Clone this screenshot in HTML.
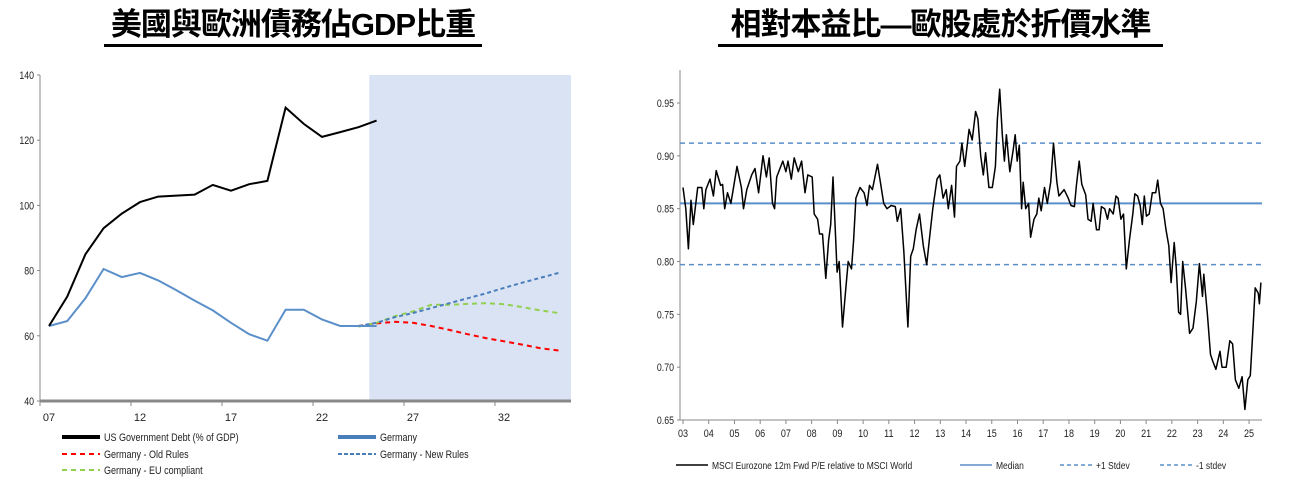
<!DOCTYPE html>
<html><head><meta charset="utf-8">
<style>
html,body{margin:0;padding:0;background:#fff;}
body{width:1292px;height:488px;overflow:hidden;position:relative;font-family:"Liberation Sans","Noto Sans CJK TC",sans-serif;}
.title{position:absolute;top:6px;font-family:"Liberation Sans","Noto Sans CJK TC",sans-serif;font-weight:bold;font-size:31px;line-height:38px;white-space:nowrap;border-bottom:3px solid #000;padding-bottom:0;}
svg{position:absolute;left:0;top:0;}
svg text{font-family:"Liberation Sans",sans-serif;}
</style></head>
<body>
<div class="title" style="left:104px;width:378px;text-align:center;letter-spacing:-1px;">美國與歐洲債務佔GDP比重</div>
<div class="title" style="left:718px;width:445px;text-align:center;letter-spacing:-1px;">相對本益比—歐股處於折價水準</div>
<svg id="chart" width="1292" height="488"></svg>
<script>
// ---------- Left chart data ----------
const leftYTicks = [40, 60, 80, 100, 120, 140];
const leftXTicks = [7, 12, 17, 22, 27, 32];
const leftXLabels = ["07", "12", "17", "22", "27", "32"];
const usYears = [7,8,9,10,11,12,13,14,15,16,17,18,19,20,21,22,23,24,25];
const usDebt = [63,72,85,93,97.5,101,102.7,103,103.3,106.3,104.5,106.5,107.5,130,125,121,122.5,124,126];
const deYears = [7,8,9,10,11,12,13,14,15,16,17,18,19,20,21,22,23,24,25];
const deDebt = [63,64.5,71.5,80.5,78,79.3,77,74,70.8,67.8,64,60.5,58.5,68,68,65,63,63,63];
const projYears = [24,25,26,27,28,29,30,31,32,33,34,35];
const oldRules = [63,63.8,64.3,64,63,61.8,60.5,59.3,58.3,57.3,56.2,55.5];
const newRules = [63,64,65.7,67,68.5,70,71.5,73,74.7,76.3,77.8,79.3];
const euCompliant = [62.8,64,66,67.5,69.5,69.5,69.8,70,69.7,68.8,67.8,67];
const shadeStartYear = 24.6;
const shadeEndYear = 36.1;

// ---------- Right chart data ----------
const rightYTicks = [0.65, 0.70, 0.75, 0.80, 0.85, 0.90, 0.95];
const rightYLabels = ["0.65","0.70","0.75","0.80","0.85","0.90","0.95"];
const rightXTicks = [3,4,5,6,7,8,9,10,11,12,13,14,15,16,17,18,19,20,21,22,23,24,25];
const medianValue = 0.855;
const plusStdev = 0.912;
const minusStdev = 0.797;
const peDates = [3.00,3.11,3.21,3.31,3.40,3.57,3.73,3.81,3.89,4.05,4.18,4.29,4.46,4.54,4.62,4.73,4.86,5.10,5.27,5.35,5.48,5.67,5.80,5.94,6.11,6.24,6.35,6.48,6.56,6.64,6.88,7.00,7.08,7.21,7.32,7.48,7.61,7.74,7.85,8.02,8.10,8.23,8.31,8.42,8.55,8.66,8.74,8.83,8.99,9.07,9.20,9.31,9.42,9.55,9.63,9.72,9.88,10.04,10.15,10.25,10.36,10.56,10.69,10.80,10.93,11.09,11.25,11.33,11.46,11.58,11.74,11.85,11.95,12.06,12.19,12.34,12.47,12.58,12.71,12.87,12.98,13.11,13.23,13.31,13.44,13.55,13.63,13.76,13.84,13.95,14.12,14.24,14.37,14.46,14.57,14.67,14.76,14.89,15.02,15.14,15.22,15.31,15.41,15.49,15.57,15.70,15.83,15.91,15.99,16.07,16.16,16.22,16.32,16.43,16.51,16.64,16.75,16.83,16.92,17.05,17.16,17.29,17.40,17.53,17.61,17.81,17.97,18.08,18.21,18.29,18.40,18.50,18.65,18.74,18.86,18.94,19.07,19.17,19.26,19.39,19.50,19.58,19.72,19.83,19.91,20.02,20.12,20.23,20.35,20.48,20.56,20.67,20.77,20.85,20.93,21.01,21.12,21.24,21.37,21.45,21.56,21.66,21.77,21.88,21.97,22.09,22.17,22.26,22.34,22.42,22.53,22.69,22.82,22.95,23.07,23.19,23.24,23.38,23.50,23.60,23.71,23.87,23.95,24.11,24.25,24.36,24.47,24.60,24.73,24.84,24.95,25.05,25.16,25.24,25.36,25.40,25.46];
const peValues = [0.87,0.85,0.812,0.858,0.835,0.87,0.87,0.85,0.868,0.878,0.862,0.886,0.872,0.873,0.85,0.865,0.855,0.89,0.87,0.85,0.868,0.882,0.888,0.865,0.9,0.88,0.898,0.855,0.85,0.88,0.895,0.885,0.895,0.878,0.898,0.885,0.895,0.865,0.882,0.88,0.845,0.84,0.826,0.826,0.784,0.82,0.835,0.88,0.79,0.8,0.738,0.77,0.8,0.793,0.82,0.86,0.87,0.865,0.853,0.872,0.868,0.892,0.872,0.855,0.85,0.853,0.852,0.838,0.85,0.81,0.738,0.805,0.812,0.83,0.845,0.815,0.797,0.822,0.85,0.878,0.882,0.86,0.868,0.85,0.872,0.842,0.89,0.895,0.912,0.89,0.925,0.915,0.942,0.935,0.9,0.882,0.903,0.87,0.87,0.89,0.935,0.963,0.92,0.895,0.92,0.885,0.905,0.92,0.895,0.91,0.85,0.875,0.85,0.855,0.823,0.84,0.845,0.86,0.848,0.87,0.855,0.875,0.912,0.875,0.862,0.868,0.86,0.853,0.852,0.872,0.895,0.873,0.863,0.84,0.838,0.855,0.83,0.83,0.852,0.85,0.84,0.85,0.845,0.862,0.86,0.84,0.845,0.793,0.82,0.845,0.864,0.862,0.853,0.835,0.862,0.843,0.845,0.865,0.865,0.877,0.855,0.85,0.83,0.815,0.78,0.818,0.795,0.752,0.75,0.8,0.775,0.732,0.737,0.762,0.798,0.767,0.788,0.75,0.712,0.705,0.698,0.715,0.7,0.7,0.725,0.722,0.688,0.68,0.691,0.66,0.688,0.692,0.74,0.775,0.77,0.76,0.78];

const NS = "http://www.w3.org/2000/svg";
const svg = document.getElementById('chart');
function mk(tag, attrs, parent){const e=document.createElementNS(NS,tag);for(const k in attrs)e.setAttribute(k,attrs[k]);(parent||svg).appendChild(e);return e;}

// ---------- Left axes ----------
const LX0=40, LX1=571, LYT=75, LYB=401;
const lx = y => 49 + (y-7)*18.2;
const ly = v => LYB - (v-40)*(LYB-LYT)/100;

let shade = mk('rect',{x:lx(shadeStartYear),y:LYT,width:LX1-lx(shadeStartYear),height:LYB-LYT,fill:'#dae3f3'});



let lyAxis = mk('line',{x1:LX0,y1:LYT,x2:LX0,y2:LYB,stroke:'#888','stroke-width':1});


let lxAxis = mk('line',{x1:LX0,y1:LYB,x2:LX1,y2:LYB,stroke:'#888','stroke-width':3});



leftYTicks.forEach(v=>{
  mk('line',{x1:LX0-3,y1:ly(v),x2:LX0,y2:ly(v),stroke:'#888'});
  const t=mk('text',{x:LX0-6,y:ly(v)+4,'text-anchor':'end','font-size':11,fill:'#222',transform:`translate(${LX0-6},0) scale(0.8,1) translate(${-(LX0-6)},0)`});
  t.textContent=String(v);
  
  
});
leftXTicks.forEach((yr,i)=>{
  const x=lx(yr);
  mk('line',{x1:x-9,y1:LYB,x2:x-9,y2:LYB+5,stroke:'#888'});
  const t=mk('text',{x:x,y:LYB+20,'text-anchor':'middle','font-size':11,fill:'#222'});
  t.textContent=leftXLabels[i];
  
  
});

function path(xs, ys, fx, fy){return xs.map((x,i)=>(i?'L':'M')+fx(x).toFixed(1)+','+fy(ys[i]).toFixed(1)).join(' ');}

let p;
p=mk('path',{d:path(projYears,oldRules,lx,ly),fill:'none',stroke:'#ff0000','stroke-width':2,'stroke-dasharray':'5,4'});


p=mk('path',{d:path(projYears,euCompliant,lx,ly),fill:'none',stroke:'#92d050','stroke-width':2,'stroke-dasharray':'5,4'});


p=mk('path',{d:path(projYears,newRules,lx,ly),fill:'none',stroke:'#4a7ebb','stroke-width':2,'stroke-dasharray':'4,3'});


p=mk('path',{d:path(deYears,deDebt,lx,ly),fill:'none',stroke:'#5b8fc9','stroke-width':2});


p=mk('path',{d:path(usYears,usDebt,lx,ly),fill:'none',stroke:'#000','stroke-width':2});



function legendItem(x,y,label,color,w,dash,name){
  const g=mk('g',{});
  
  
  const a={x1:x,y1:y,x2:x+38,y2:y,stroke:color,'stroke-width':w};
  if(dash)a['stroke-dasharray']=dash;
  mk('line',a,g);
  const t=mk('text',{x:x+42,y:y+4,'font-size':11,fill:'#222',transform:`translate(${x+42},0) scale(0.82,1) translate(${-(x+42)},0)`},g);
  t.textContent=label;
}
legendItem(62,437,'US Government Debt (% of GDP)','#000',4,null,'legend-us-debt');
legendItem(338,437,'Germany','#4a7ebb',4,null,'legend-germany');
legendItem(62,454,'Germany - Old Rules','#ff0000',2,'5,4','legend-old-rules');
legendItem(338,454,'Germany - New Rules','#4a7ebb',2,'4,2','legend-new-rules');
legendItem(62,470,'Germany - EU compliant','#92d050',2,'5,4','legend-eu-compliant');

// ---------- Right axes ----------
const RX0=680, RX1=1262, RYT=70, RYB=420;
const rx = y => 683 + (y-3)*25.73;
const ry = v => 420 - (v-0.65)*(420-103)/0.30;

let ryA=mk('line',{x1:RX0,y1:RYT,x2:RX0,y2:RYB,stroke:'#888'});


let rxA=mk('line',{x1:RX0,y1:RYB,x2:RX1,y2:RYB,stroke:'#888'});


rightYTicks.forEach((v,i)=>{
  mk('line',{x1:RX0-3,y1:ry(v),x2:RX0,y2:ry(v),stroke:'#888'});
  const t=mk('text',{x:RX0-6,y:ry(v)+4,'text-anchor':'end','font-size':11,fill:'#222',transform:`translate(${RX0-6},0) scale(0.8,1) translate(${-(RX0-6)},0)`});
  t.textContent=rightYLabels[i];
  
  
});
rightXTicks.forEach(yr=>{
  const x=rx(yr);
  mk('line',{x1:x,y1:RYB,x2:x,y2:RYB+4,stroke:'#888'});
  const t=mk('text',{x:x,y:RYB+17,'text-anchor':'middle','font-size':11,fill:'#222',transform:`translate(${x},0) scale(0.82,1) translate(${-x},0)`});
  t.textContent=String(yr).padStart(2,'0');
  
  
});
let ml=mk('line',{x1:RX0,y1:ry(medianValue),x2:RX1,y2:ry(medianValue),stroke:'#5b8fc9','stroke-width':2});


let pl=mk('line',{x1:RX0,y1:ry(plusStdev),x2:RX1,y2:ry(plusStdev),stroke:'#5b8fc9','stroke-width':1.5,'stroke-dasharray':'5,4'});


let mnl=mk('line',{x1:RX0,y1:ry(minusStdev),x2:RX1,y2:ry(minusStdev),stroke:'#5b8fc9','stroke-width':1.5,'stroke-dasharray':'5,4'});


p=mk('path',{d:path(peDates,peValues,rx,ry),fill:'none',stroke:'#000','stroke-width':1.5,'stroke-linejoin':'round'});



function legendItem2(x,y,label,color,dash,name){
  const g=mk('g',{});
  
  
  const a={x1:x,y1:y,x2:x+32,y2:y,stroke:color,'stroke-width':1.5};
  if(dash)a['stroke-dasharray']=dash;
  mk('line',a,g);
  const t=mk('text',{x:x+36,y:y+4,'font-size':10,fill:'#222',transform:`translate(${x+36},0) scale(0.85,1) translate(${-(x+36)},0)`},g);
  t.textContent=label;
}
legendItem2(676,465,'MSCI Eurozone 12m Fwd P/E relative to MSCI World','#000',null,'legend-relative-pe');
legendItem2(960,465,'Median','#5b8fc9',null,'legend-median');
legendItem2(1060,465,'+1 Stdev','#5b8fc9','4,3','legend-plus-stdev');
legendItem2(1160,465,'-1 stdev','#5b8fc9','4,3','legend-minus-stdev');
</script>
</body></html>
